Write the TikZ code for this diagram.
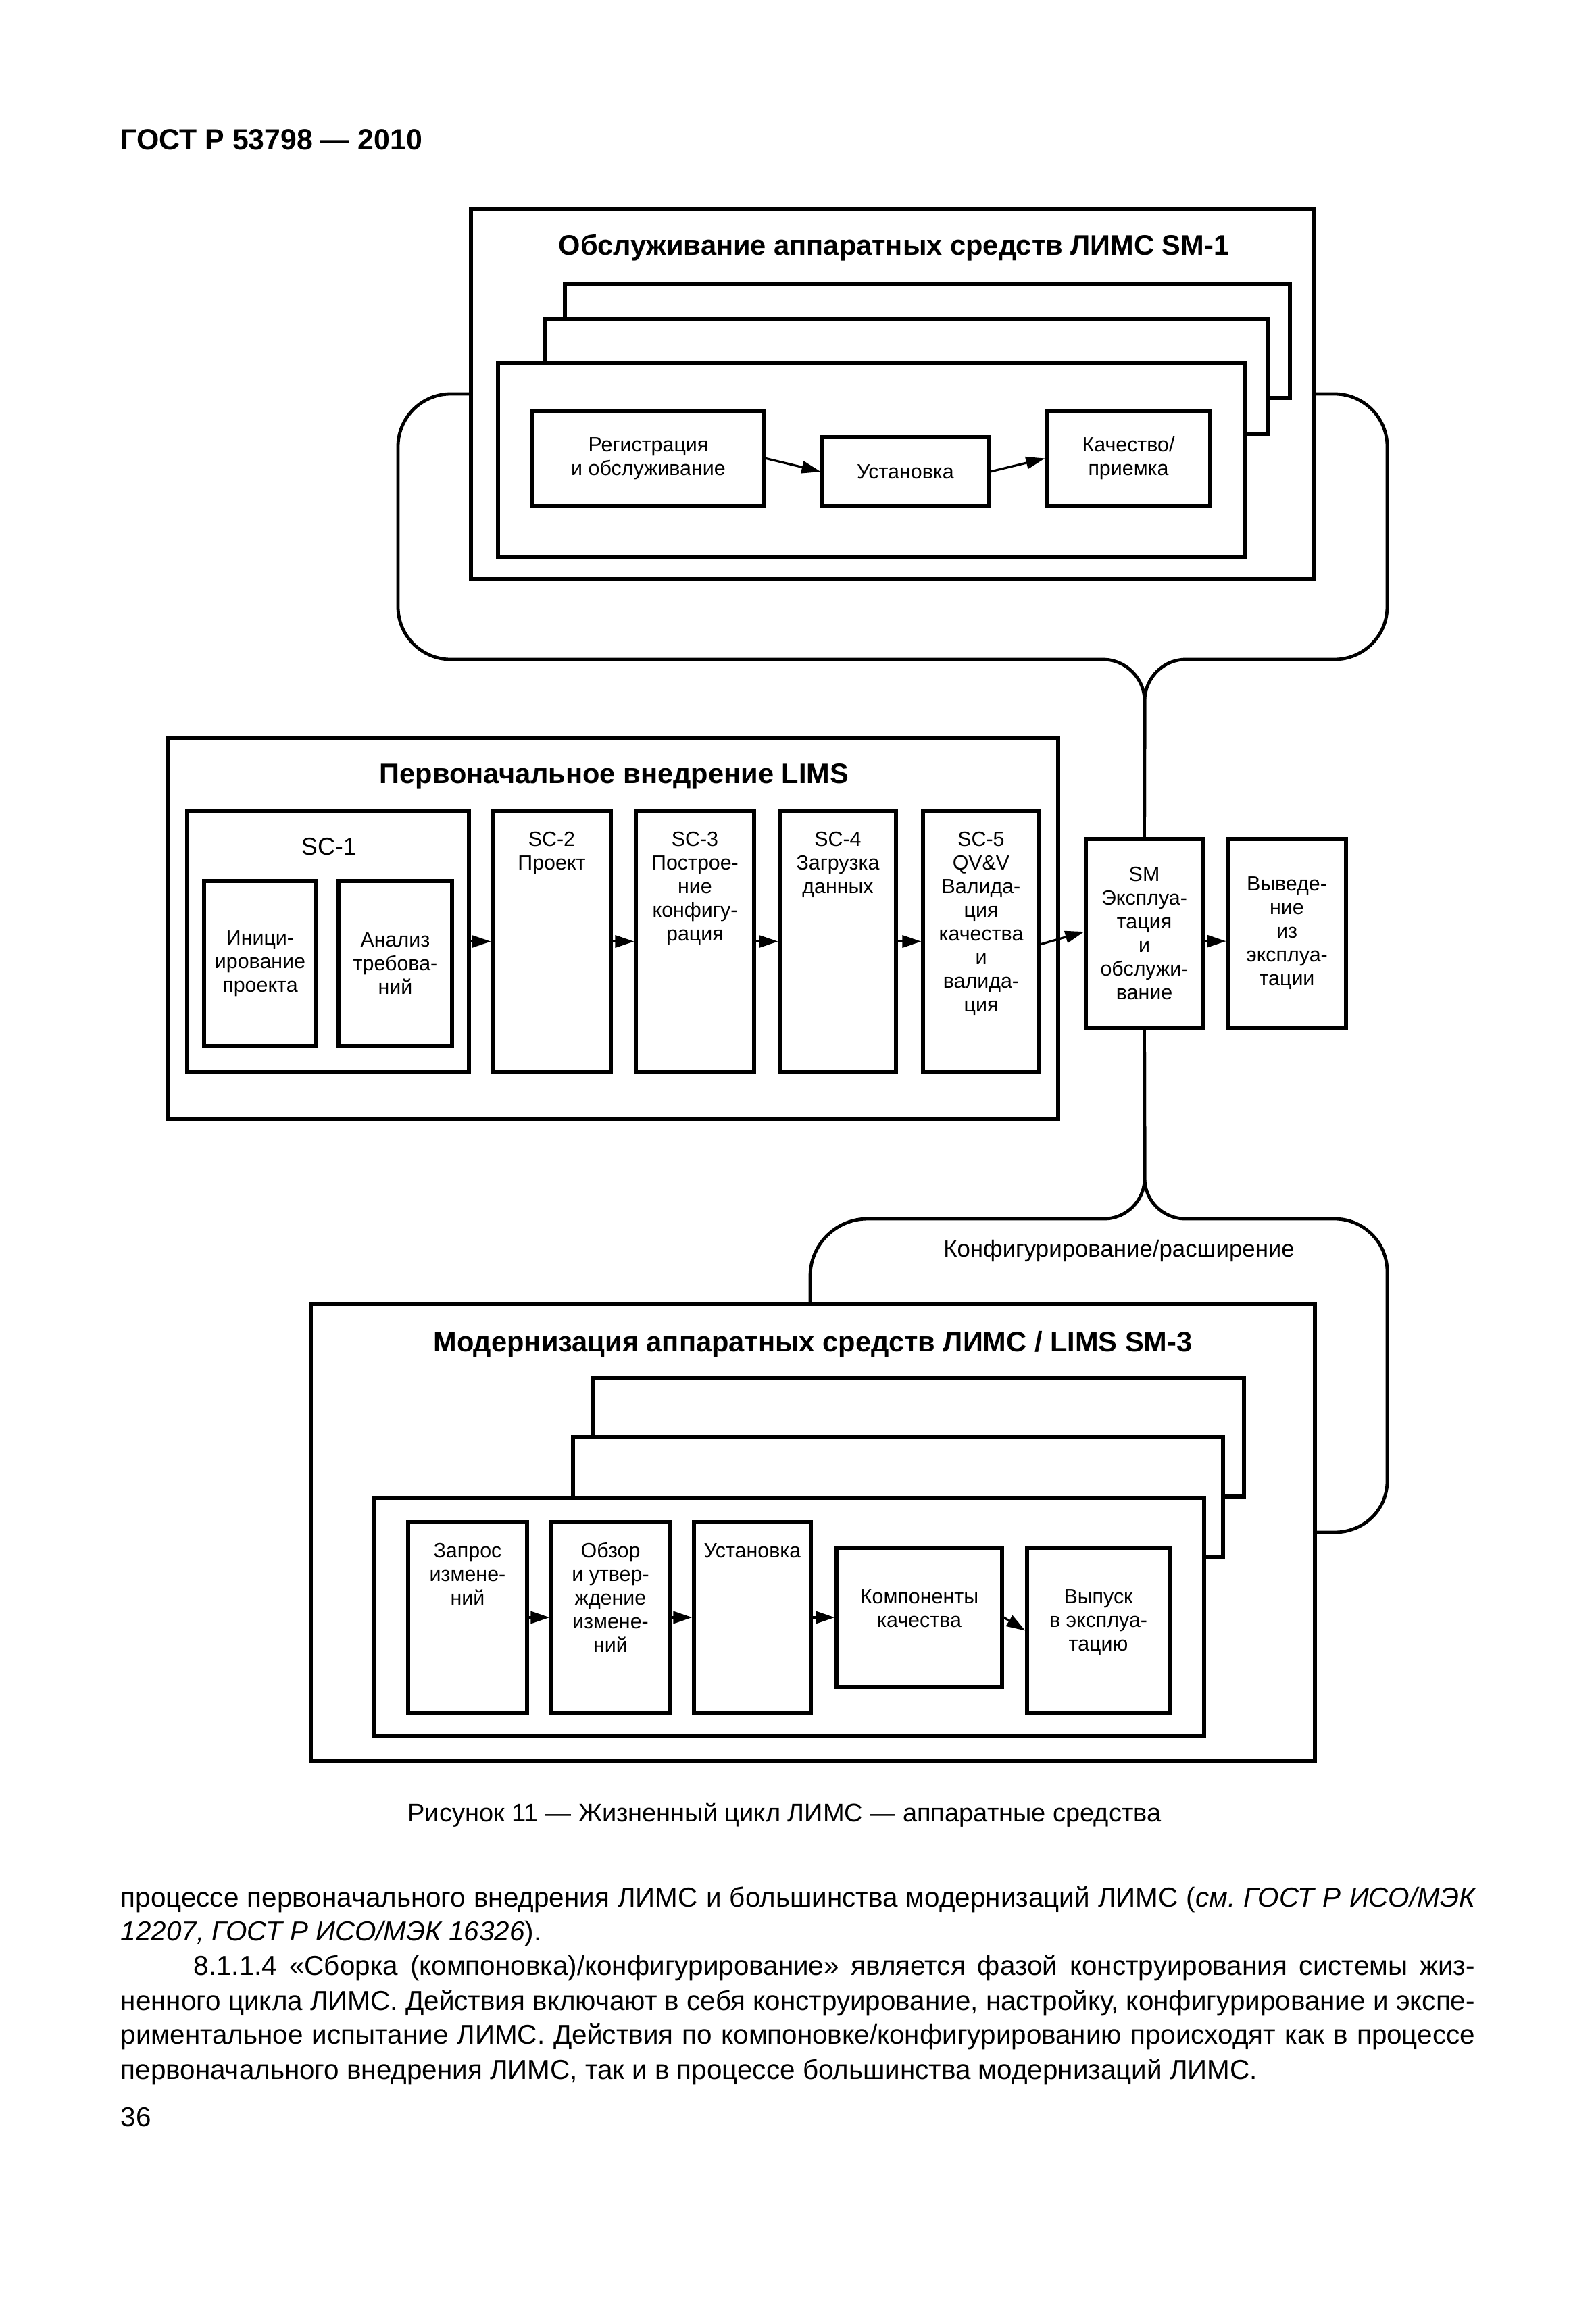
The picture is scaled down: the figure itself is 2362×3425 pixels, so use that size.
\documentclass[tikz,border=0pt]{standalone}
\usepackage{fontspec}
\setmainfont{Liberation Sans}
\usetikzlibrary{arrows.meta,fit}
\newcommand\firstln{\rule{0pt}{7pt}}
\begin{document}
\begin{tikzpicture}[x=0.25pt,y=-0.25pt,
  box/.style={draw, line width=1.3pt, fill=white, inner sep=0pt},
  small/.style={font=\fontsize{7.6}{8.75}\selectfont, align=center, inner sep=0pt},
  ttl/.style={font=\bfseries\fontsize{10.4}{12}\selectfont, inner sep=0pt, anchor=base},
  arr/.style={line width=0.8pt, -{Triangle[length=7pt,width=4.5pt]}},
  brace/.style={line width=1.2pt},
  body/.style={font=\fontsize{10.1}{12}\selectfont\frenchspacing, inner sep=0pt, anchor=base west},
]
\useasboundingbox (0,0) rectangle (2362,3425);

% header
\node[font=\bfseries\fontsize{10.7}{12}\selectfont, anchor=base west, inner sep=0pt] (hdr) at (178,222) {ГОСТ Р 53798 — 2010};

% ---------- SM-1 ----------
\node[box, fit={(697,309) (1945,857)}] (sm1) {};
\node[ttl] (sm1t) at (1323,377) {Обслуживание аппаратных средств ЛИМС SM-1};
\node[box, fit={(836,420) (1909,589)}] (sm1b) {};
\node[box, fit={(806,472) (1877,642)}] (sm1m) {};
\node[box, fit={(737,537) (1842,824)}] (sm1f) {};
\node[box, fit={(788,608) (1131,749)}] (reg) {};
\node[box, fit={(1217,647) (1463,749)}] (ust1) {};
\node[box, fit={(1549,608) (1791,749)}] (kach) {};
\node[small] (regt) at (reg.center) {Регистрация\\и обслуживание};
\node[small] (ust1t) at (ust1.center) {Установка};
\node[small] (kacht) at (kach.center) {Качество/\\приемка};
\draw[arr] (reg.east) -- (ust1.west);
\draw[arr] (ust1.east) -- (kach.west);

% ---------- LIMS ----------
\node[box, fit={(248,1093) (1566,1656)}] (lims) {};
\node[ttl] (limst) at (909,1159) {Первоначальное внедрение LIMS};
\node[box, fit={(277,1200) (694,1587)}] (sc1) {};
\node[font=\fontsize{9}{10}\selectfont, anchor=base, inner sep=0pt] (sc1t) at (487,1265) {SC-1};
\node[box, fit={(302,1304) (468,1548)}] (ini) {};
\node[box, fit={(501,1304) (669,1548)}] (ana) {};
\node[small] (init) at (ini.center) {Иници-\\ирование\\проекта};
\node[small] (anat) at (ana.center) {Анализ\\требова-\\ний};
\node[box, fit={(729,1200) (904,1587)}] (sc2) {};
\node[box, fit={(941,1200) (1116,1587)}] (sc3) {};
\node[box, fit={(1154,1200) (1326,1587)}] (sc4) {};
\node[box, fit={(1366,1200) (1538,1587)}] (sc5) {};
\node[small, anchor=north] (sc2t) at (sc2.north |- 0,1224) {\firstln SC-2\\Проект};
\node[small, anchor=north] (sc3t) at (sc3.north |- 0,1224) {\firstln SC-3\\Построе-\\ние\\конфигу-\\рация};
\node[small, anchor=north] (sc4t) at (sc4.north |- 0,1224) {\firstln SC-4\\Загрузка\\данных};
\node[small, anchor=north] (sc5t) at (sc5.north |- 0,1224) {\firstln SC-5\\QV\&V\\Валида-\\ция\\качества\\и\\валида-\\ция};
\node[box, fit={(1607,1242) (1780,1521)}] (sm) {};
\node[box, fit={(1817,1242) (1992,1521)}] (vyv) {};
\node[small] (smt) at (sm.center) {SM\\Эксплуа-\\тация\\и\\обслужи-\\вание};
\node[small] (vyvt) at (vyv.center) {Выведе-\\ние\\из\\эксплуа-\\тации};
\draw[arr] (sc1.east) -- (sc2.west);
\draw[arr] (sc2.east) -- (sc3.west);
\draw[arr] (sc3.east) -- (sc4.west);
\draw[arr] (sc4.east) -- (sc5.west);
\draw[arr] ([yshift=-1pt]sc5.east) -- ([yshift=0.6pt]sm.west);
\draw[arr] ([yshift=-2.9pt]sm.east) -- ([yshift=-2.9pt]vyv.west);

% ---------- SM-3 ----------
\node[box, fit={(460,1930) (1946,2606)}] (sm3) {};
\node[ttl] (sm3t) at (1203,2000) {Модернизация аппаратных средств ЛИМС / LIMS SM-3};
\node[box, fit={(878,2039) (1841,2215)}] (sm3b) {};
\node[box, fit={(848,2127) (1810,2305)}] (sm3m) {};
\node[box, fit={(553,2217) (1782,2570)}] (sm3f) {};
\node[box, fit={(604,2253) (780,2535)}] (zap) {};
\node[box, fit={(816,2253) (991,2535)}] (obz) {};
\node[box, fit={(1027,2253) (1200,2535)}] (ust3) {};
\node[box, fit={(1238,2291) (1483,2497)}] (komp) {};
\node[box, fit={(1520,2291) (1731,2536)}] (vyp) {};
\node[small, anchor=north] (zapt) at (zap.north |- 0,2277) {\firstln Запрос\\измене-\\ний};
\node[small, anchor=north] (obzt) at (obz.north |- 0,2277) {\firstln Обзор\\и утвер-\\ждение\\измене-\\ний};
\node[small, anchor=north] (ust3t) at (ust3.north |- 0,2277) {\firstln Установка};
\node[small, anchor=north] (kompt) at (komp.north |- 0,2345) {\firstln Компоненты\\качества};
\node[small, anchor=north] (vypt) at (vyp.north |- 0,2345) {\firstln Выпуск\\в эксплуа-\\тацию};
\draw[arr] (zap.east) -- (obz.west);
\draw[arr] (obz.east) -- (ust3.west);
\draw[arr] (ust3.east) -- (komp.west);
\draw[arr] (komp.east) -- (vyp.west);

% ---------- braces ----------
\draw[brace] (sm1.west) -- (667,583) .. controls (624,583) and (589,618) .. (589,661)
  -- (589,898) .. controls (589,941) and (624,976) .. (667,976)
  -- (1632,976) .. controls (1666,976) and (1694,1004) .. (1694,1038) -- (sm.north);
\draw[brace] (sm1.east) -- (1975,583) .. controls (2018,583) and (2053,618) .. (2053,661)
  -- (2053,898) .. controls (2053,941) and (2018,976) .. (1975,976)
  -- (1755,976) .. controls (1721,976) and (1694,1004) .. (1694,1038) -- (sm.north);
\draw[brace] (sm.south) -- (1694,1744) .. controls (1694,1777) and (1667,1804) .. (1634,1804)
  -- (1284,1804) .. controls (1237,1804) and (1199,1842) .. (1199,1889) -- (1199,0 |- sm3.north);
\draw[brace] (sm.south) -- (1694,1744) .. controls (1694,1777) and (1721,1804) .. (1754,1804)
  -- (1975,1804) .. controls (2018,1804) and (2053,1839) .. (2053,1882)
  -- (2053,2192) .. controls (2053,2235) and (2018,2268) .. (1975,2268) -- (sm3.east);
\node[font=\fontsize{8.7}{10}\selectfont, anchor=base, inner sep=0pt] (konf) at (1656,1860) {Конфигурирование/расширение};

% caption
\node[font=\fontsize{9.5}{11}\selectfont, anchor=base, inner sep=0pt] (cap) at (1161,2696) {Рисунок 11 — Жизненный цикл ЛИМС — аппаратные средства};

% body text
\node[body] (l1) at (178,2822) {\makebox[501pt][s]{процессе первоначального внедрения ЛИМС и большинства модернизаций ЛИМС ({\itshape см. ГОСТ Р ИСО/МЭК}}};
\node[body] (l2) at (178,2872) {{\itshape 12207, ГОСТ Р ИСО/МЭК 16326}).};
\node[body] (l3) at (286,2923) {\makebox[474pt][s]{8.1.1.4 «Сборка (компоновка)/конфигурирование» является фазой конструирования системы жиз-}};
\node[body] (l4) at (178,2975) {\makebox[501pt][s]{ненного цикла ЛИМС. Действия включают в себя конструирование, настройку, конфигурирование и экспе-}};
\node[body] (l5) at (178,3025) {\makebox[501pt][s]{риментальное испытание ЛИМС. Действия по компоновке/конфигурированию происходят как в процессе}};
\node[body] (l6) at (178,3077) {первоначального внедрения ЛИМС, так и в процессе большинства модернизаций ЛИМС.};
\node[body] (pg) at (178,3147) {36};
\end{tikzpicture}
\end{document}
